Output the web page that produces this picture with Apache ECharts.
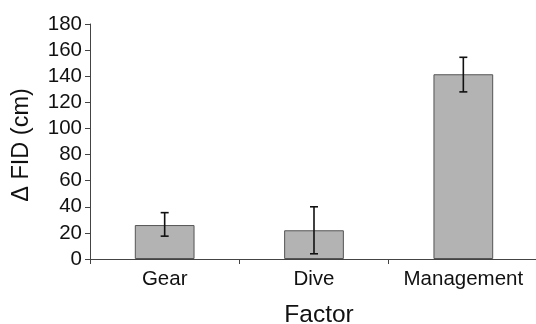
<!DOCTYPE html>
<html><head><meta charset="utf-8">
<script src="https://cdn.jsdelivr.net/npm/echarts@6/dist/echarts.min.js"></script>
<style>html,body{margin:0;padding:0;background:#fff}#c{width:536px;height:324px}</style>
</head><body><div id="c"></div>
<script>
var categories = ['Gear', 'Dive', 'Management'];
var means = [26, 22, 141.5];
var errLow = [17.5, 4, 128];
var errHigh = [35.5, 40, 154.5];
var yTicks = [0, 20, 40, 60, 80, 100, 120, 140, 160, 180];

var FONT = 'Liberation Sans';
var chart = echarts.init(document.getElementById('c'), null, {renderer: 'canvas'});
var errData = categories.map(function (c, i) { return [i, errLow[i], errHigh[i]]; });
chart.setOption({
  animation: false,
  grid: {left: 90, right: -2, top: 24, bottom: 65, containLabel: false, outerBoundsMode: 'none'},
  xAxis: {
    type: 'category', data: categories,
    name: 'Factor', nameLocation: 'middle', nameGap: 44,
    nameTextStyle: {fontFamily: FONT, fontSize: 24.5, color: '#111', padding: [0, 0, 0, 10]},
    axisLine: {lineStyle: {color: '#444', width: 1}},
    axisTick: {show: true, interval: 0, length: 5, lineStyle: {color: '#444'}},
    axisLabel: {interval: 0, hideOverlap: false, fontFamily: FONT, fontSize: 20.5, color: '#111', margin: 10}
  },
  yAxis: {
    type: 'value', min: yTicks[0], max: yTicks[yTicks.length - 1], interval: 20,
    name: '\u0394 FID (cm)', nameLocation: 'middle', nameGap: 56, nameRotate: 90,
    nameTextStyle: {fontFamily: FONT, fontSize: 23.5, color: '#111', padding: [0, 7, 0, 0]},
    axisLine: {show: true, lineStyle: {color: '#444', width: 1}},
    axisTick: {show: true, length: 5, lineStyle: {color: '#444'}},
    axisLabel: {fontFamily: FONT, fontSize: 20.5, color: '#111', margin: 8},
    splitLine: {show: false}
  },
  series: [{
    type: 'bar', data: means, barWidth: '40%',
    itemStyle: {color: '#b3b3b3', borderColor: '#555', borderWidth: 1}
  }, {
    type: 'custom', data: errData, z: 10,
    renderItem: function (params, api) {
      var x = api.value(0);
      var lo = api.coord([x, api.value(1)]);
      var hi = api.coord([x, api.value(2)]);
      var w = 4;
      var st = {stroke: '#111', lineWidth: 1.6};
      return {type: 'group', children: [
        {type: 'line', shape: {x1: lo[0], y1: lo[1], x2: hi[0], y2: hi[1]}, style: st},
        {type: 'line', shape: {x1: lo[0] - w, y1: lo[1], x2: lo[0] + w, y2: lo[1]}, style: st},
        {type: 'line', shape: {x1: hi[0] - w, y1: hi[1], x2: hi[0] + w, y2: hi[1]}, style: st}
      ]};
    }
  }]
});
</script></body></html>
